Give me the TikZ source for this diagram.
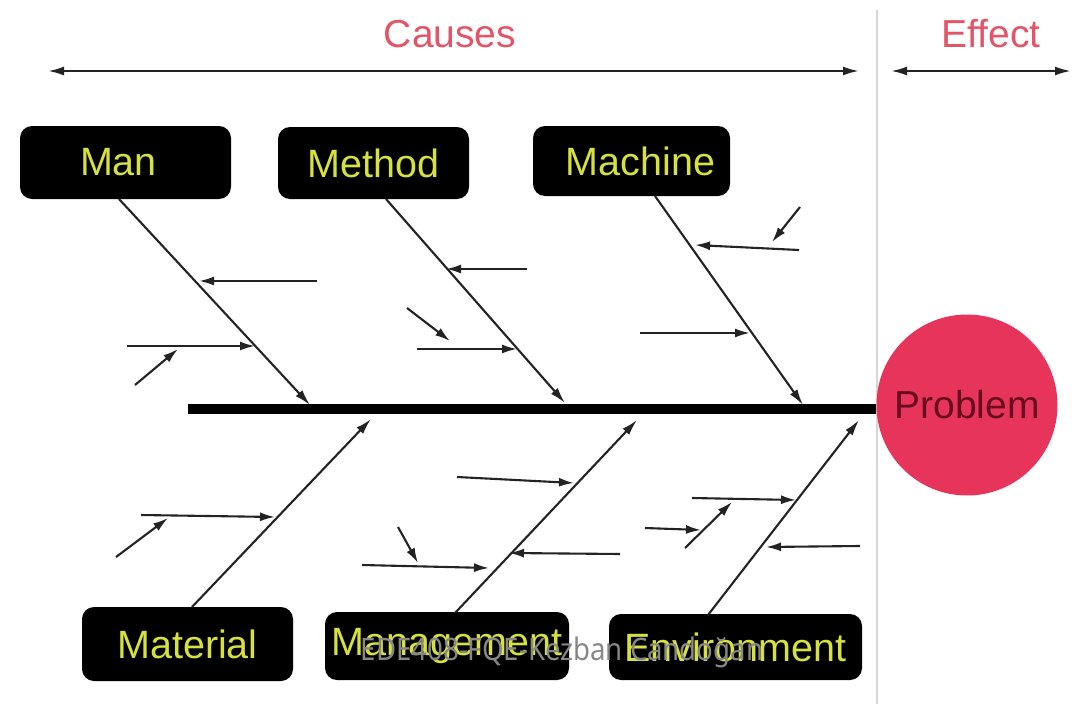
\documentclass[tikz,border=0pt]{standalone}
\usepackage{fontspec}
\setmainfont{Liberation Sans}
\newfontfamily\wmfont[FakeStretch=0.89]{Noto Sans}
\usetikzlibrary{arrows.meta}
\definecolor{lbl}{RGB}{214,224,62}
\definecolor{hdr}{RGB}{226,84,104}
\definecolor{prob}{RGB}{230,52,90}
\definecolor{probtxt}{RGB}{105,12,30}
\definecolor{ln}{RGB}{35,35,35}
\definecolor{vline}{RGB}{215,215,215}
\definecolor{wm}{RGB}{135,135,135}
\begin{document}
\begin{tikzpicture}[x=1pt,y=-1pt,
  box/.style={fill=black, rounded corners=12pt, inner sep=0pt, text=lbl,
    font=\fontsize{39.5}{46}\selectfont},
  hdrtext/.style={text=hdr, font=\fontsize{39}{45}\selectfont, inner sep=0pt},
  bone/.style={draw=ln, line width=2.1pt, -{Latex[length=16pt,width=9pt]}},
  sub/.style={draw=ln, line width=2.1pt, -{Latex[length=15pt,width=9pt]}},
  twoway/.style={draw=ln, line width=2.3pt,
    {Latex[length=16pt,width=9pt]}-{Latex[length=16pt,width=9pt]}},
]
\useasboundingbox (0,0) rectangle (1072,704);
\fill[white] (0,0) rectangle (1072,704);

% headers
\node[hdrtext] (causes) at (450,34) {Causes};
\node[hdrtext] (effect) at (991,34) {Effect};
\coordinate (cl) at (48,71);
\coordinate (cr) at (859,71);
\coordinate (el) at (891,71);
\coordinate (er) at (1071,71);
\draw[twoway] (cl) -- (cr);
\draw[twoway] (el) -- (er);

% divider
\coordinate (vt) at (877,10);
\coordinate (vb) at (877,704);
\draw[vline, line width=2pt] (vt) -- (vb);

% problem
\node[circle, fill=prob, minimum size=181pt, inner sep=0pt, text=probtxt,
  font=\fontsize{39}{46}\selectfont] (problem) at (967,405) {Problem};

% spine
\coordinate (tail) at (188,409);
\draw[black, line width=10pt] (tail) -- (problem.west |- tail);

% category boxes
\node[box, minimum width=211pt, minimum height=73pt] (man) at (125.5,162.5) {\hspace*{-14pt}Man};
\node[box, minimum width=191pt, minimum height=72pt] (method) at (373.5,163) {Method};
\node[box, minimum width=197pt, minimum height=70pt] (machine) at (631.5,161) {\hspace*{18pt}Machine};
\node[box, minimum width=211pt, minimum height=74pt] (material) at (187.5,644) {Material};
\node[box, minimum width=244pt, minimum height=68pt] (management) at (447,646) {Management};
\node[box, minimum width=253pt, minimum height=66pt] (environment) at (735.5,647) {Environment};

% main bones
\coordinate (manS) at (119,199);   \coordinate (manE) at (310,405);
\coordinate (metS) at (386,199);   \coordinate (metE) at (565,403);
\coordinate (macS) at (655,196);   \coordinate (macE) at (803,405);
\coordinate (matS) at (192,607);   \coordinate (matE) at (371,419);
\coordinate (mgtS) at (455,613);   \coordinate (mgtE) at (637,420);
\coordinate (envS) at (708,615);   \coordinate (envE) at (859,420);
\draw[bone] (manS) -- (manE);
\draw[bone] (metS) -- (metE);
\draw[bone] (macS) -- (macE);
\draw[bone] (matS) -- (matE);
\draw[bone] (mgtS) -- (mgtE);
\draw[bone] (envS) -- (envE);

% Man sub-causes
\coordinate (a1) at (317,281); \coordinate (a1e) at (199,281);
\coordinate (a2) at (127,346); \coordinate (a2e) at (255,346);
\coordinate (a3) at (135,385); \coordinate (a3e) at (178,349);
\draw[sub] (a1) -- (a1e);
\draw[sub] (a2) -- (a2e);
\draw[sub] (a3) -- (a3e);

% Method sub-causes
\coordinate (b1) at (527,269); \coordinate (b1e) at (446,269);
\coordinate (b2) at (417,349); \coordinate (b2e) at (517,349);
\coordinate (b3) at (407,308); \coordinate (b3e) at (450,341);
\draw[sub] (b1) -- (b1e);
\draw[sub] (b2) -- (b2e);
\draw[sub] (b3) -- (b3e);

% Machine sub-causes
\coordinate (c1) at (799,250); \coordinate (c1e) at (695,245);
\coordinate (c2) at (800,207); \coordinate (c2e) at (772,242);
\coordinate (c3) at (640,333); \coordinate (c3e) at (750,333);
\draw[sub] (c1) -- (c1e);
\draw[sub] (c2) -- (c2e);
\draw[sub] (c3) -- (c3e);

% Material sub-causes
\coordinate (d1) at (141,515); \coordinate (d1e) at (275,517);
\coordinate (d2) at (116,557); \coordinate (d2e) at (168,518);
\draw[sub] (d1) -- (d1e);
\draw[sub] (d2) -- (d2e);

% Management sub-causes
\coordinate (e1) at (457,477); \coordinate (e1e) at (574,483);
\coordinate (e2) at (620,554); \coordinate (e2e) at (509,553);
\coordinate (e3) at (362,565); \coordinate (e3e) at (489,568);
\coordinate (e4) at (398,527); \coordinate (e4e) at (418,563);
\draw[sub] (e1) -- (e1e);
\draw[sub] (e2) -- (e2e);
\draw[sub] (e3) -- (e3e);
\draw[sub] (e4) -- (e4e);

% Environment sub-causes
\coordinate (f1) at (692,498); \coordinate (f1e) at (796,500);
\coordinate (f2) at (860,546); \coordinate (f2e) at (766,547);
\coordinate (f3) at (645,528); \coordinate (f3e) at (701,530);
\coordinate (f4) at (685,548); \coordinate (f4e) at (732,502);
\draw[sub] (f1) -- (f1e);
\draw[sub] (f2) -- (f2e);
\draw[sub] (f3) -- (f3e);
\draw[sub] (f4) -- (f4e);

% watermark
\node[text=wm, font=\wmfont\fontsize{31}{36}\selectfont, inner sep=0pt, anchor=base]
  (wm) at (562,660) {EDE408-FQE-Kezban Candoğan};
\end{tikzpicture}
\end{document}
